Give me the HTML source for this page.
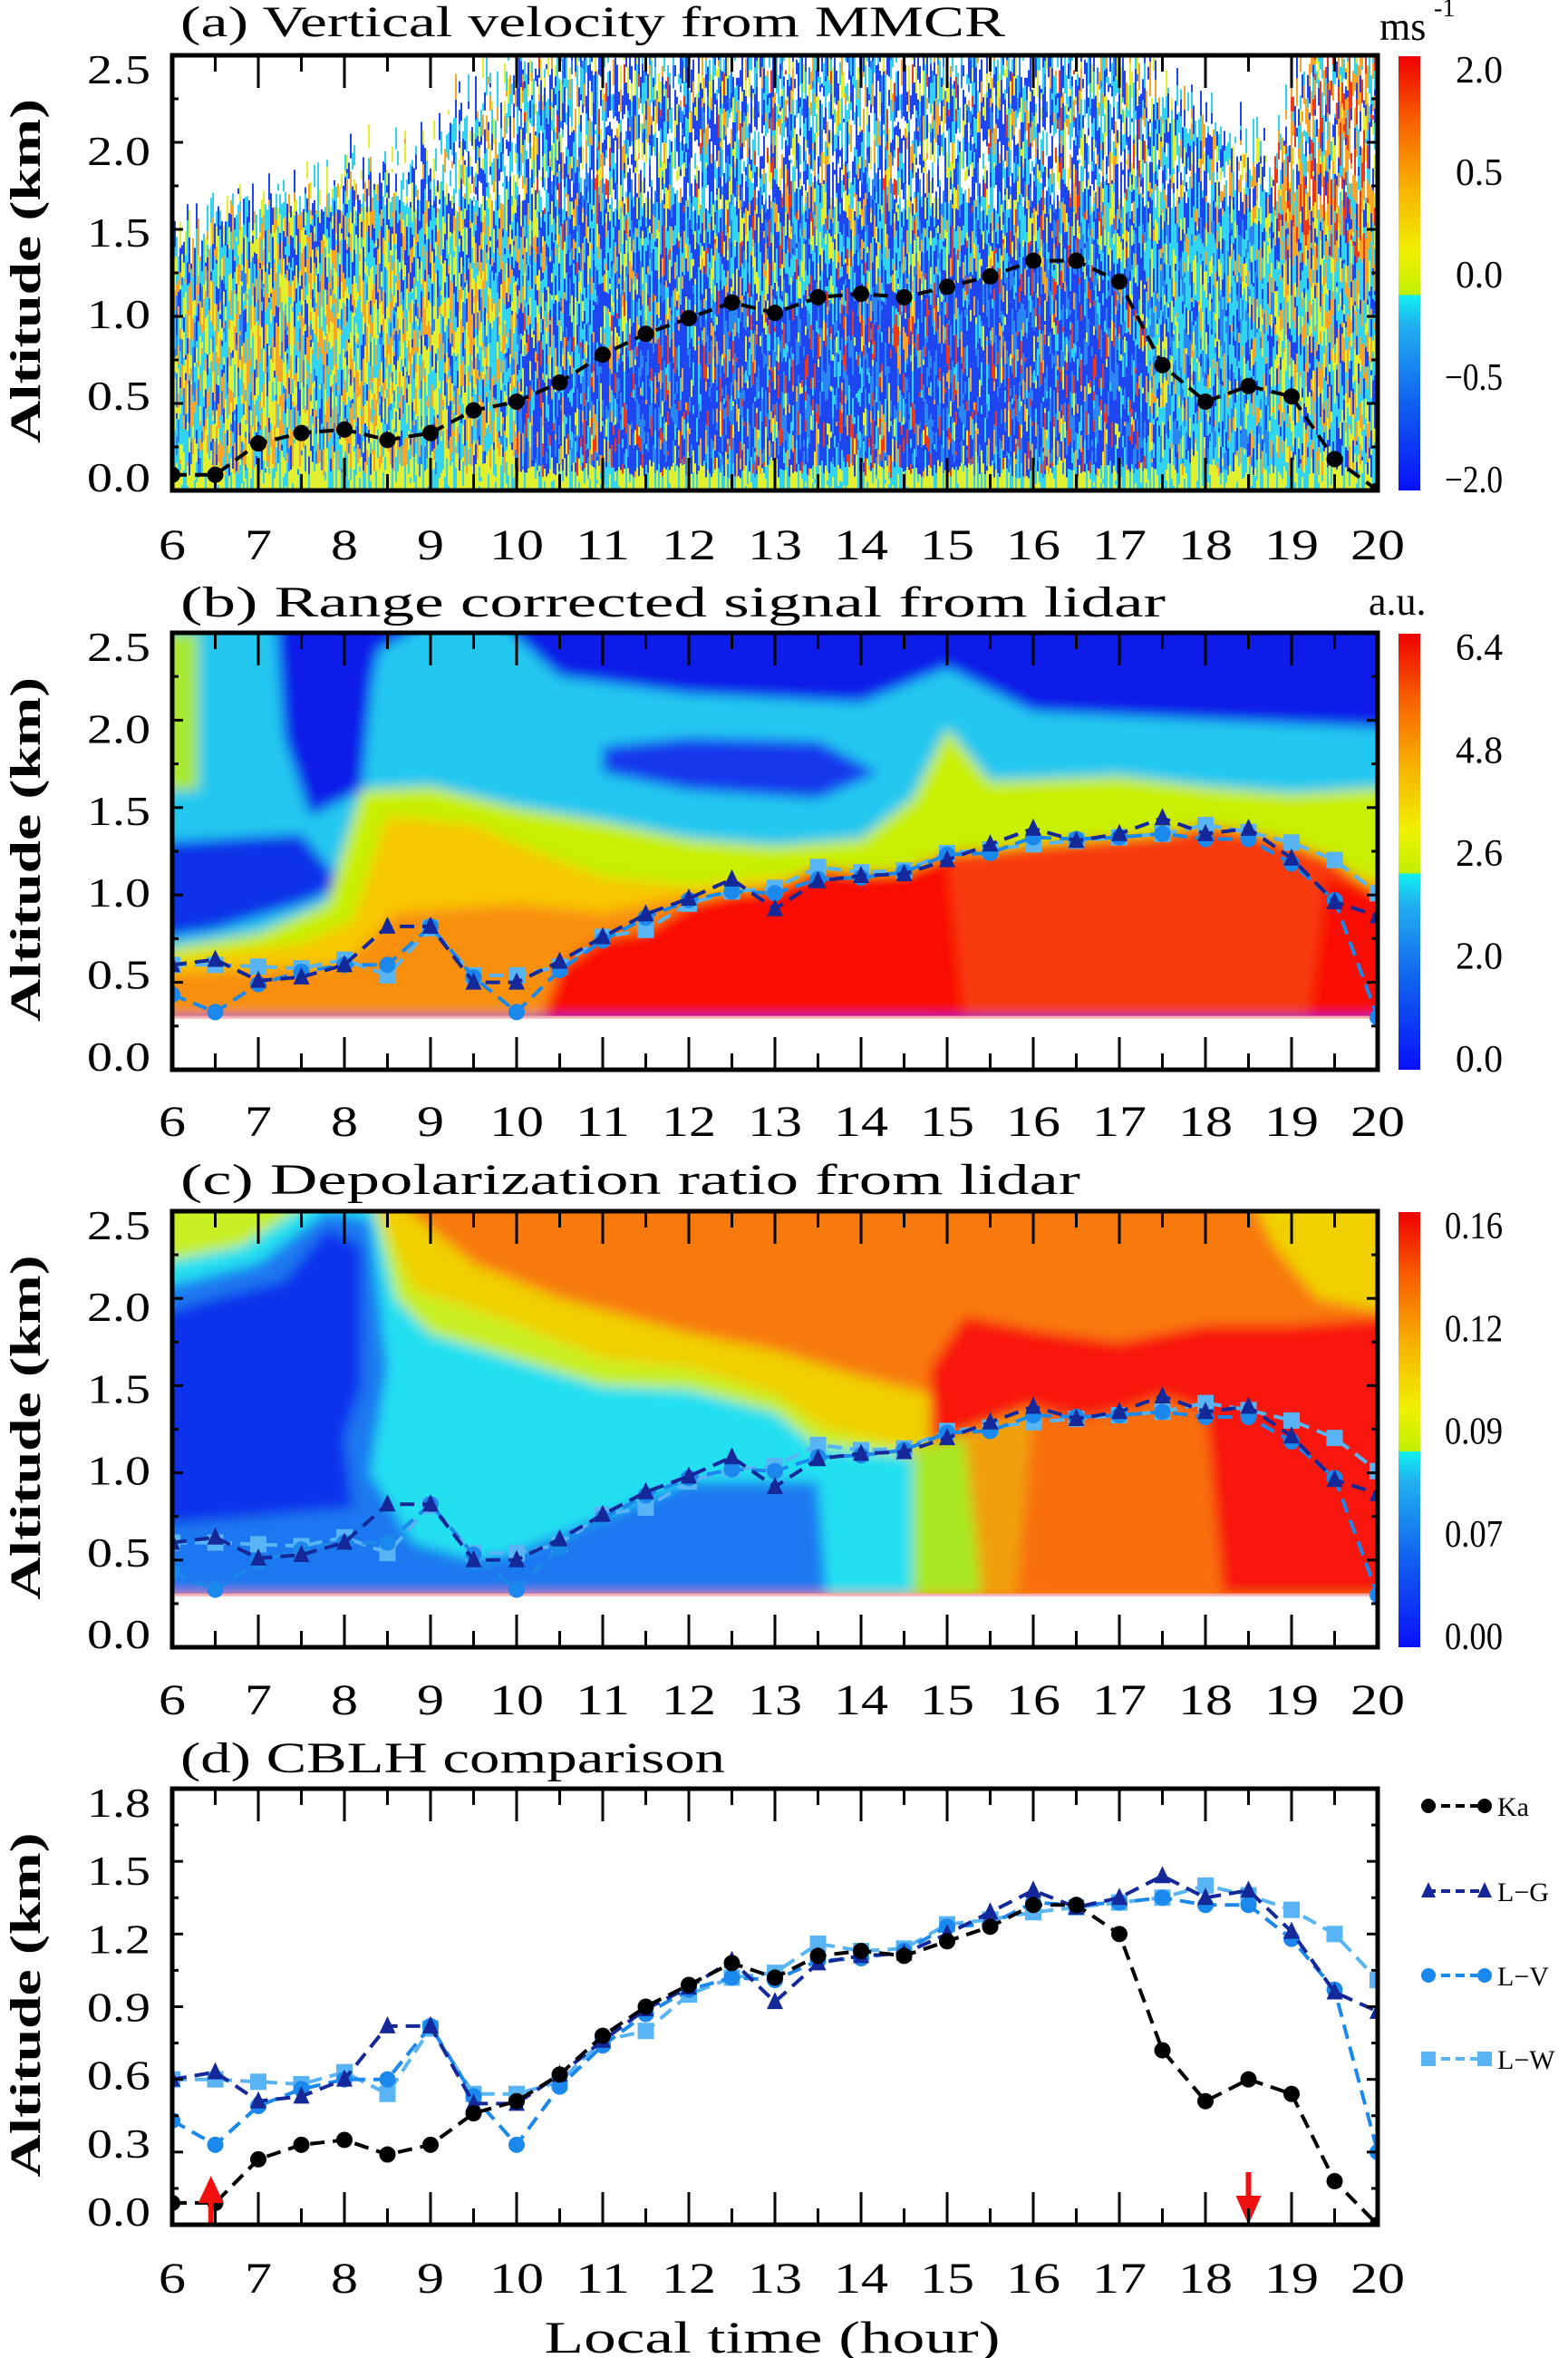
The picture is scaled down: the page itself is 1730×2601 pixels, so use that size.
<!DOCTYPE html>
<html><head><meta charset="utf-8"><style>
html,body{margin:0;padding:0;background:#fff;}
svg{display:block;}
text{font-family:"Liberation Serif",serif;fill:#000;}
</style></head><body>
<svg id="fig" width="1730" height="2601" viewBox="0 0 1730 2601" xmlns="http://www.w3.org/2000/svg">
<defs>
<filter id="blur" x="-5%" y="-5%" width="110%" height="110%"><feGaussianBlur stdDeviation="7"/></filter>
<linearGradient id="cbA" x1="0" y1="1" x2="0" y2="0">
<stop offset="0" stop-color="#0a10f8"/><stop offset="0.2" stop-color="#1060f0"/><stop offset="0.38" stop-color="#20b0f0"/><stop offset="0.449" stop-color="#10f0f0"/><stop offset="0.451" stop-color="#c0f000"/><stop offset="0.55" stop-color="#f0f000"/><stop offset="0.7" stop-color="#f8b000"/><stop offset="0.85" stop-color="#f86000"/><stop offset="1" stop-color="#f00000"/>
</linearGradient>
<clipPath id="clipA"><rect x="190" y="61" width="1330" height="480"/></clipPath>
<clipPath id="clipB"><rect x="190" y="698" width="1330" height="482"/></clipPath>
<clipPath id="clipC"><rect x="190" y="1336" width="1330" height="481"/></clipPath>
<clipPath id="clipD"><rect x="190" y="1973" width="1330" height="481"/></clipPath>
</defs>
<g id="layer-heat"></g>
<g id="layer-lines"></g>
<g id="layer-axes"></g>
</svg>
<script>
// ---- data (CBLH, km) at half-hour steps ----
const hours = [6,6.5,7,7.5,8,8.5,9,9.5,10,10.5,11,11.5,12,12.5,13,13.5,14,14.5,15,15.5,16,16.5,17,17.5,18,18.5,19,19.5,20];
const kaValues = [0.09,0.09,0.27,0.33,0.35,0.29,0.33,0.46,0.51,0.62,0.78,0.90,0.99,1.08,1.02,1.11,1.13,1.11,1.17,1.23,1.32,1.32,1.20,0.72,0.51,0.60,0.54,0.18,0.0];
const lgValues = [0.60,0.63,0.51,0.53,0.60,0.82,0.82,0.50,0.50,0.62,0.76,0.89,0.98,1.09,0.92,1.08,1.11,1.12,1.20,1.29,1.38,1.31,1.35,1.44,1.35,1.38,1.21,0.96,0.88];
const lvValues = [0.43,0.33,0.49,0.56,0.60,0.60,0.82,0.53,0.33,0.57,0.74,0.87,0.97,1.02,1.01,1.09,1.10,1.13,1.23,1.24,1.33,1.32,1.33,1.35,1.32,1.32,1.18,0.97,0.30];
const lwValues = [0.60,0.60,0.59,0.58,0.63,0.54,0.81,0.54,0.54,0.59,0.76,0.80,0.95,1.02,1.04,1.16,1.13,1.14,1.24,1.26,1.29,1.31,1.33,1.35,1.40,1.36,1.30,1.20,1.01];
const xTickLabels = ["6","7","8","9","10","11","12","13","14","15","16","17","18","19","20"];
const altTicks = ["0.0","0.5","1.0","1.5","2.0","2.5"];
const cblhTicks = ["0.0","0.3","0.6","0.9","1.2","1.5","1.8"];
const cbLabelsA = ["2.0","0.5","0.0","\u22120.5","\u22122.0"];
const cbLabelsB = ["6.4","4.8","2.6","2.0","0.0"];
const cbLabelsC = ["0.16","0.12","0.09","0.07","0.00"];

const NS = "http://www.w3.org/2000/svg";
const heat = document.getElementById('layer-heat');
const lines = document.getElementById('layer-lines');
const axes = document.getElementById('layer-axes');
function mk(tag, attrs, parent){const e=document.createElementNS(NS,tag);for(const k in attrs)e.setAttribute(k,attrs[k]);parent.appendChild(e);return e;}

const X0=190, X1=1520;
function X(h){return X0+(h-6)/14*(X1-X0);}
const panels=[
 {key:'a',top:61,bot:541,max:2.5,title:"(a) Vertical velocity from MMCR",tw:910,ty:40,xl:617},
 {key:'b',top:698,bot:1180,max:2.5,title:"(b) Range corrected signal from lidar",tw:1087,ty:680,xl:1253},
 {key:'c',top:1336,bot:1817,max:2.5,title:"(c) Depolarization ratio from lidar",tw:993,ty:1317,xl:1891},
 {key:'d',top:1973,bot:2454,max:1.8,title:"(d) CBLH comparison",tw:601,ty:1955,xl:2529}
];
function Yf(p){return v=>p.bot-v/p.max*(p.bot-p.top);}
function interp(arr,h){if(h<=6)return arr[0];if(h>=20)return arr[arr.length-1];const i=Math.floor((h-6)*2);const f=(h-6)*2-i;return arr[i]*(1-f)+arr[i+1]*f;}

// ---- panel a texture (decorative) ----
(function(){
 const p=panels[0];
 const g=mk('g',{'clip-path':'url(#clipA)'},heat);
 
 
 let s=12345;function rnd(){s=(s*1103515245+12345)%2147483648;return s/2147483648;}
 const C={b:'#1e46f0',m:'#2a86f0',c:'#30d4f0',y:'#e0f030',o:'#f8a428',r:'#f03818'};
 function pick(w){let t=rnd()*w.reduce((a,x)=>a+x[1],0);for(const x of w){t-=x[1];if(t<=0)return C[x[0]];}return C[w[0][0]];}
 const topH=[6,6.3,7,8,9,9.6,10,17,17.6,18.3,18.8,19.2,20], topZ=[1.3,1.5,1.6,1.8,1.95,2.3,2.5,2.5,2.3,2.0,1.9,2.5,2.5];
 function topAt(h){for(let i=0;i<topH.length-1;i++){if(h<=topH[i+1]){const f=(h-topH[i])/(topH[i+1]-topH[i]);return topZ[i]*(1-f)+topZ[i+1]*f;}}return 2.5;}
 for(let x=X0;x<X1;x+=2){
  const h=6+(x-X0)/95;const ka=interp(kaValues,h);const tz=topAt(h)+ (rnd()-0.5)*0.35;
  let y=p.bot;
  while(y>p.top){
   const len=4+rnd()*26;const z=(p.bot-y)/192;
   let col;
   if(z>tz){col=null;}
   else if(z>1.6&&rnd()<(h<10?0.4:0.22)){col=null;}
   else if(z<0.07){col=rnd()<0.6?C.y:C.c;}
   else if(h<10){col=z<1.2?pick([['o',2.5],['y',3],['c',3],['m',1],['b',1.2]]):pick([['b',3],['c',3.5],['y',2],['o',1.5]]);}
   else if(h<17.3){col=z<ka-0.05?pick([['b',5.5],['m',2],['r',1],['o',0.8],['c',1.2],['y',0.5]]):pick([['b',4],['m',1],['c',3],['y',1.5],['o',1],['r',0.4]]);}
   else if(h<18.8){col=z<1.5?pick([['c',4.5],['m',2],['b',2],['y',1.5],['o',0.8]]):pick([['b',3],['c',3],['o',1.5],['y',1]]);}
   else{col=z<1.3?pick([['c',4],['b',2],['y',2],['o',2]]):pick([['o',3],['r',2],['c',2],['b',2],['y',1]]);}
   if(col)mk('rect',{x:x,y:(y-len).toFixed(1),width:2,height:len.toFixed(1),fill:col},g);
   y-=len;
  }
 }
})();

// ---- panels b & c smooth fields (decorative shapes tied to CBLH) ----
function poly(parent,Y,pts,fill){const d=pts.map(q=>X(q[0]).toFixed(1)+','+Y(q[1]).toFixed(1)).join(' ');return mk('polygon',{points:d,fill:fill},parent);}
function underCurve(arr,h0,h1){const pts=[[h0,0.3]];for(let i=0;i<hours.length;i++){if(hours[i]>=h0&&hours[i]<=h1)pts.push([hours[i],Math.max(arr[i],0.3)]);}pts.push([h1,0.3]);return pts;}
(function(){
 const p=panels[1],Y=Yf(p);
 const g=mk('g',{'clip-path':'url(#clipB)'},heat);
 
 
 const f=mk('g',{filter:'url(#blur)'},g);
 mk('rect',{x:170,y:680,width:1370,height:520,fill:'#0a1ae8'},f);
 poly(f,Y,[[5.8,2.6],[7.4,2.6],[7.7,2.0],[8.1,1.7],[8.4,2.4],[9.5,2.7],[10.5,2.25],[12,2.15],[14,2.1],[15,2.3],[16,2.05],[18,2.0],[20.3,1.95],[20.3,0.3],[5.8,0.3]],'#20c8f0');
 poly(f,Y,[[11,1.85],[12,1.9],[13.5,1.88],[14.2,1.7],[13.5,1.55],[12,1.6],[11,1.7]],'#1438ec');
 poly(f,Y,[[7.2,2.6],[8.4,2.6],[8.2,1.6],[7.6,1.45],[7.3,1.9]],'#0a1ae8');
 poly(f,Y,[[5.8,1.3],[7.5,1.35],[8.0,1.05],[7.5,0.95],[6.5,0.8],[5.8,0.75]],'#1030e8');
 poly(f,Y,[[5.8,2.5],[6.3,2.5],[6.3,1.6],[5.8,1.6]],'#a8e830');
 poly(f,Y,[[5.8,0.68],[7,0.78],[7.8,0.95],[8.2,1.6],[9,1.62],[10,1.5],[11,1.42],[12,1.32],[13,1.28],[14,1.32],[14.6,1.55],[15,1.95],[15.5,1.65],[17,1.68],[18,1.62],[19,1.58],[20.3,1.62],[20.3,0.3],[5.8,0.3]],'#c8f000');
 poly(f,Y,[[5.8,0.62],[7.5,0.72],[8.1,0.85],[8.5,1.45],[9.5,1.4],[10.2,1.25],[11,1.1],[12,1.05],[13,1.1],[20.3,1.1],[20.3,0.3],[5.8,0.3]],'#f8c800');
 poly(f,Y,[[5.8,0.55],[8,0.6],[8.6,0.9],[10,0.95],[11,0.9],[12,1.0],[20.3,1.0],[20.3,0.3],[5.8,0.3]],'#f89010');
 poly(f,Y,underCurve(lwValues,14.8,20),'#f83a0c');
 poly(f,Y,underCurve(lwValues,10.3,15.2),'#f81000');
 poly(f,Y,[[19.4,1.1],[20.2,1.0],[20.2,0.3],[19.2,0.3]],'#f81000');
 mk('rect',{x:190,y:Y(0.3),width:1330,height:Y(0)-Y(0.3)+2,fill:'#ffffff'},g);
 mk('line',{x1:190,x2:1520,y1:Y(0.3),y2:Y(0.3),stroke:'#f8b0b0','stroke-width':3},g);
})();
(function(){
 const p=panels[2],Y=Yf(p);
 const g=mk('g',{'clip-path':'url(#clipC)'},heat);
 
 
 const f=mk('g',{filter:'url(#blur)'},g);
 mk('rect',{x:170,y:1318,width:1370,height:520,fill:'#f87a10'},f);
 poly(f,Y,[[18.5,2.6],[20.3,2.6],[20.3,1.9],[19.3,2.0],[18.8,2.3]],'#f0d000');
 poly(f,Y,[[5.8,2.6],[8.5,2.6],[9.5,2.2],[10.5,2.0],[12,1.8],[13,1.7],[14,1.55],[14.8,1.45],[15,1.2],[13.5,1.0],[5.8,1.0]],'#f0d000');
 poly(f,Y,[[5.8,2.6],[8.3,2.6],[8.8,2.05],[10,1.85],[11,1.65],[12,1.6],[13,1.45],[13.6,1.25],[14.5,1.15],[14.6,0.3],[5.8,0.3]],'#c8f020');
 poly(f,Y,[[5.8,2.2],[6.8,2.3],[7.6,2.55],[8.3,2.6],[8.6,2.0],[9,1.8],[10,1.65],[11,1.5],[12,1.48],[13,1.35],[13.5,1.15],[14.6,1.1],[14.6,0.3],[5.8,0.3]],'#20e0f0');
 poly(f,Y,[[5.8,2.05],[7,2.2],[7.8,2.5],[8.3,2.45],[8.5,1.6],[8.3,1.0],[8.8,0.6],[9.5,0.5],[10,0.55],[11,0.75],[12,0.95],[13,0.95],[13.5,0.95],[13.6,0.3],[5.8,0.3]],'#1c78f0');
 poly(f,Y,[[5.8,1.9],[6.5,2.0],[7.3,2.1],[7.8,2.4],[8.2,2.3],[8.2,1.5],[8.0,1.2],[8.1,0.8],[7,0.75],[5.8,0.7]],'#0c30ec');
 poly(f,Y,[[14.8,1.6],[15.2,1.9],[16,1.82],[17,1.75],[18,1.85],[19,1.85],[20.3,1.9],[20.3,0.3],[14.8,0.3]],'#f81808');
 poly(f,Y,underCurve(lgValues,14.6,16.2),'#f0a010');
 poly(f,Y,underCurve(lgValues,15.8,18.2),'#f87010');
 poly(f,Y,[[14.6,1.15],[15.2,1.2],[15.4,0.3],[14.6,0.3]],'#a8e820');
 mk('rect',{x:190,y:Y(0.3),width:1330,height:Y(0)-Y(0.3)+2,fill:'#ffffff'},g);
 mk('line',{x1:190,x2:1520,y1:Y(0.3),y2:Y(0.3),stroke:'#f8b0b0','stroke-width':3},g);
})();

// ---- series lines ----
const seriesDefs=[
 {name:'ka',vals:kaValues,color:'#000000',marker:'circle'},
 {name:'l-g',vals:lgValues,color:'#14289a',marker:'tri'},
 {name:'l-v',vals:lvValues,color:'#1a88ec',marker:'circle'},
 {name:'l-w',vals:lwValues,color:'#58b4f4',marker:'square'}
];
function marker(parent,type,x,y,color,r){
 if(type==='circle')return mk('circle',{cx:x,cy:y,r:r,fill:color},parent);
 if(type==='square')return mk('rect',{x:x-r,y:y-r,width:2*r,height:2*r,fill:color},parent);
 return mk('polygon',{points:`${x},${y-r-2} ${x-r},${y+r-1} ${x+r},${y+r-1}`,fill:color},parent);
}
function drawSeries(p,s,clipId,minV){
 const Y=Yf(p);
 const g=mk('g',{'clip-path':'url(#'+clipId+')'},lines);
 
 
 const pts=hours.map((h,i)=>X(h).toFixed(1)+','+Y(s.vals[i]).toFixed(1)).join(' ');
 mk('polyline',{points:pts,fill:'none',stroke:s.color,'stroke-width':4,'stroke-dasharray':'16,9'},g);
 hours.forEach((h,i)=>{if(s.vals[i]<minV)return;const m=marker(g,s.marker,X(h),Y(s.vals[i]),s.color,9);
  
  });
}
drawSeries(panels[0],seriesDefs[0],'clipA',-1);
[3,2,1].forEach(i=>{drawSeries(panels[1],seriesDefs[i],'clipB',0.28);drawSeries(panels[2],seriesDefs[i],'clipC',0.28);});
[3,2,1,0].forEach(i=>drawSeries(panels[3],seriesDefs[i],'clipD',-1));

// arrows in panel d
(function(){
 const up=mk('g',{},lines);
 
 
 mk('rect',{x:X(6.45)-3,y:2425,width:6,height:29,fill:'#f01010'},up);
 mk('polygon',{points:`${X(6.45)},2400 ${X(6.45)-14},2430 ${X(6.45)+14},2430`,fill:'#f01010'},up);
 const dn=mk('g',{},lines);
 
 
 mk('rect',{x:X(18.5)-3,y:2396,width:6,height:30,fill:'#f01010'},dn);
 mk('polygon',{points:`${X(18.5)},2454 ${X(18.5)-14},2422 ${X(18.5)+14},2422`,fill:'#f01010'},dn);
})();

// ---- axes ----
panels.forEach(p=>{
 const Y=Yf(p);
 const g=mk('g',{},axes);
 
 
 mk('rect',{x:X0,y:p.top,width:X1-X0,height:p.bot-p.top,fill:'none',stroke:'#000','stroke-width':5},g);
 for(let h=6;h<=20;h+=0.5){const L=(h%1===0)?36:18;
  mk('line',{x1:X(h),x2:X(h),y1:p.bot,y2:p.bot-L,stroke:'#000','stroke-width':3},g);
  mk('line',{x1:X(h),x2:X(h),y1:p.top,y2:p.top+L,stroke:'#000','stroke-width':3},g);}
 const ticks=p.key==='d'?cblhTicks:altTicks;const step=p.key==='d'?0.3:0.5;
 for(let v=0;v<=p.max+1e-6;v+=step/2){const L=(Math.abs(v/step-Math.round(v/step))<1e-6)?12:7;
  mk('line',{x1:X0,x2:X0+L,y1:Y(v),y2:Y(v),stroke:'#000','stroke-width':3},g);
  mk('line',{x1:X1,x2:X1-L,y1:Y(v),y2:Y(v),stroke:'#000','stroke-width':3},g);}
 ticks.forEach((t,i)=>{const frac=i/(ticks.length-1);const cy=p.bot-15-frac*(p.bot-p.top-30);
  const e=mk('text',{x:166,y:cy+16,'text-anchor':'end','font-size':46,textLength:70,lengthAdjust:'spacingAndGlyphs'},g);e.textContent=t;
  
  });
 xTickLabels.forEach((t,i)=>{const e=mk('text',{x:X(6+i),y:p.xl,'text-anchor':'middle','font-size':48,textLength:t.length*30,lengthAdjust:'spacingAndGlyphs'},g);e.textContent=t;
  
  });
 const tt=mk('text',{x:199,y:p.ty,'font-size':48,textLength:p.tw,lengthAdjust:'spacingAndGlyphs'},g);tt.textContent=p.title;
 
 
 const cy=(p.top+p.bot)/2-2;
 const yt=mk('text',{x:0,y:0,'font-size':48,'font-weight':'bold','font-family':'Liberation Mono, monospace','text-anchor':'middle',textLength:380,lengthAdjust:'spacingAndGlyphs',transform:`translate(44,${cy}) rotate(-90)`},g);
 yt.textContent='Altitude (km)';
 
 
});
const xt=mk('text',{x:852,y:2595,'text-anchor':'middle','font-size':50,textLength:503,lengthAdjust:'spacingAndGlyphs'},axes);
xt.textContent='Local time (hour)';



// colorbars
[[panels[0],cbLabelsA,'ms'],[panels[1],cbLabelsB,'a.u.'],[panels[2],cbLabelsC,null]].forEach(([p,labs,unit])=>{
 const g=mk('g',{},axes);
 
 
 mk('rect',{x:1543,y:p.top+1,width:24,height:p.bot-p.top-1,fill:'url(#cbA)'},g);
 labs.forEach((t,i)=>{const cy=p.top+15+i/(labs.length-1)*(p.bot-p.top-28);
  const e=mk('text',{x:1658,y:cy+15,'text-anchor':'end','font-size':42,textLength:t.length*16+(t.length>3?0:4),lengthAdjust:'spacingAndGlyphs'},g);e.textContent=t;
  
  });
 if(unit==='ms'){const u=mk('text',{x:1522,y:44,'font-size':44},g);u.textContent='ms';const s=mk('text',{x:1582,y:18,'font-size':28},g);s.textContent='-1';
  
  }
 if(unit==='a.u.'){const u=mk('text',{x:1510,y:678,'font-size':44},g);u.textContent='a.u.';
  
  }
});

// legend
const legY=[1992,2086,2179,2271];const legNames=['Ka','L\u2212G','L\u2212V','L\u2212W'];
seriesDefs.forEach((s,i)=>{
 const g=mk('g',{},axes);
 
 
 mk('line',{x1:1574,x2:1640,y1:legY[i],y2:legY[i],stroke:s.color,'stroke-width':4,'stroke-dasharray':'10,6'},g);
 marker(g,s.marker,1576,legY[i],s.color,8);marker(g,s.marker,1638,legY[i],s.color,8);
 const t=mk('text',{x:1652,y:legY[i]+11,'font-size':30},g);t.textContent=legNames[i];
});
</script>
</body></html>
